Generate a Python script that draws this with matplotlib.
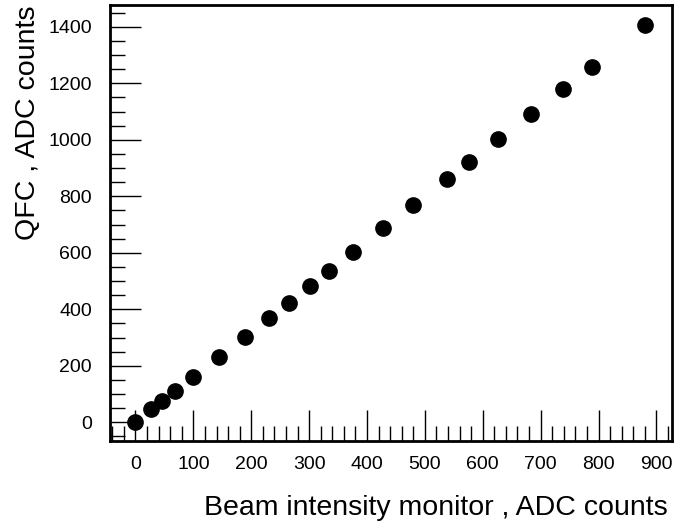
import matplotlib
matplotlib.use("Agg")
import matplotlib.pyplot as plt
from matplotlib.ticker import MultipleLocator

plt.rcParams['font.family'] = ['Liberation Sans', 'DejaVu Sans']

# beam intensity monitor (ADC counts) vs QFC (ADC counts)
beam = [0, 27, 45, 68, 99, 145, 189, 231, 265, 301, 335, 376,
        428, 479, 538, 576, 626, 683, 738, 789, 881]
qfc = [0, 46, 75, 110, 159, 230, 301, 371, 423, 482, 536, 604,
       689, 770, 860, 923, 1002, 1090, 1180, 1257, 1407]

xticks = [0, 100, 200, 300, 400, 500, 600, 700, 800, 900]
yticks = [0, 200, 400, 600, 800, 1000, 1200, 1400]


def main():
    fig = plt.figure(figsize=(6.75, 5.27), dpi=100)
    ax = fig.add_axes([0.163, 0.1632, 0.8326, 0.8273])

    ax.plot(beam, qfc, 'o', color='black', markersize=11, linestyle='none')

    ax.set_xlim(-44, 927)
    ax.set_ylim(-66, 1477)
    ax.set_xticks(xticks)
    ax.set_yticks(yticks)
    ax.xaxis.set_minor_locator(MultipleLocator(20))
    ax.yaxis.set_minor_locator(MultipleLocator(50))

    ax.tick_params(which='both', direction='in', top=False, right=False,
                   labelsize=14, width=1, color='black')
    ax.tick_params(axis='x', which='major', length=22, pad=11)
    ax.tick_params(axis='y', which='major', length=22, pad=13)
    ax.tick_params(which='minor', length=11)

    for s in ax.spines.values():
        s.set_linewidth(2)

    ax.set_xlabel('Beam intensity monitor , ADC counts', fontsize=20.5, loc='right')
    ax.xaxis.label.set_va('baseline')
    ax.xaxis.set_label_coords(0.993, -0.170)

    ax.set_ylabel('QFC , ADC counts', fontsize=20.5, loc='top')
    ax.yaxis.label.set_va('baseline')
    ax.yaxis.set_label_coords(-0.1335, 1.0)

    fig.savefig('out.png', dpi=100)


if __name__ == "__main__":
    main()
